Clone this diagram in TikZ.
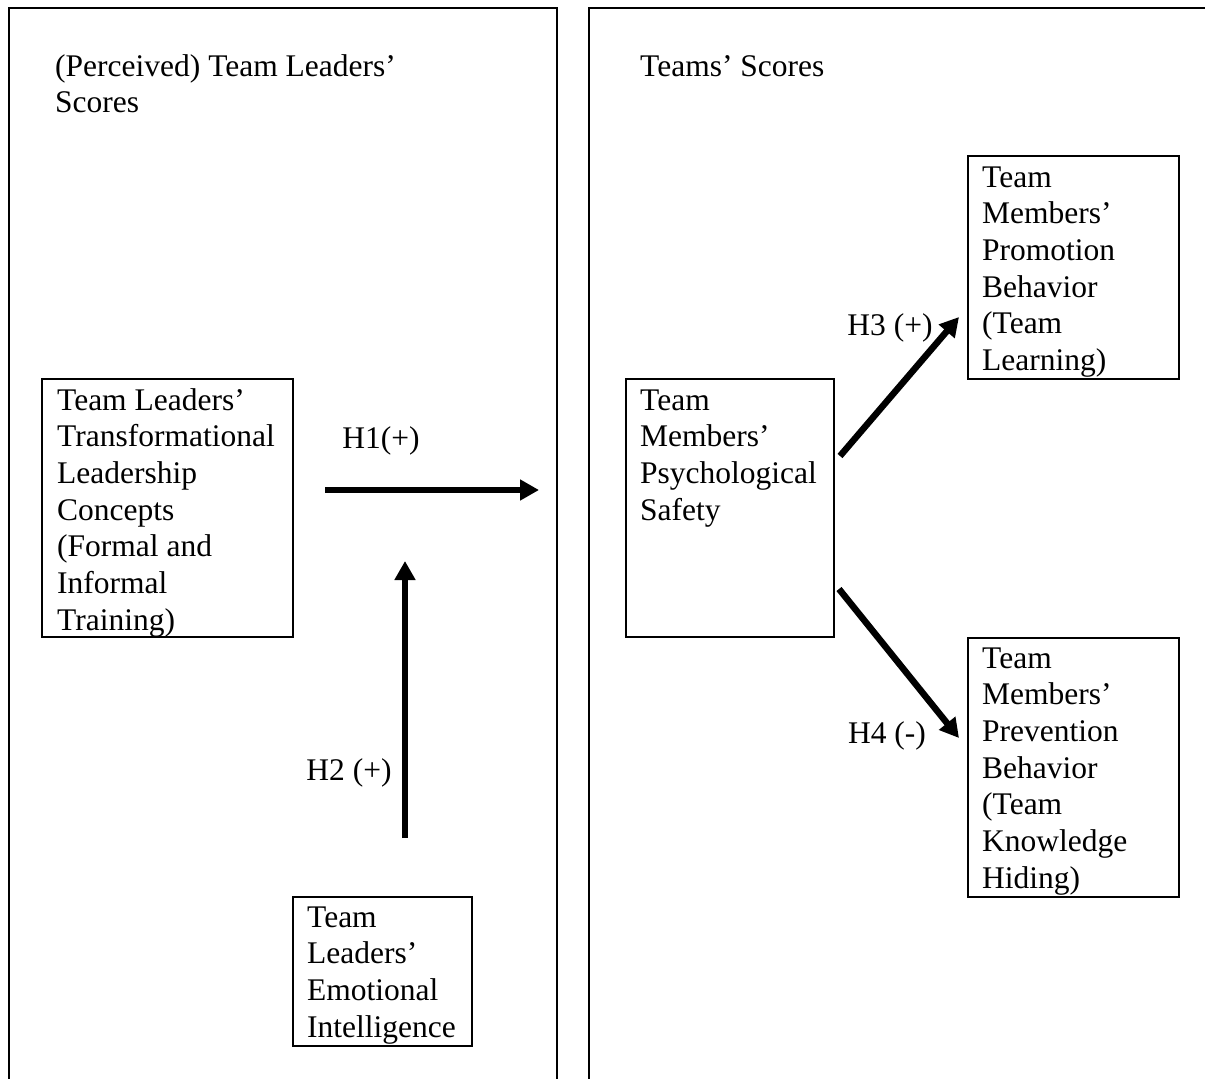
\documentclass[tikz,border=0pt]{standalone}
\usepackage{fontspec}
\setmainfont{Liberation Serif}
\usetikzlibrary{arrows.meta}
\begin{document}
\begin{tikzpicture}[x=1pt,y=-1pt,
  frame/.style={line width=2pt},
  boxnode/.style={draw, line width=2pt, anchor=north west, inner sep=0pt},
  txt/.style={anchor=base west, inner sep=0pt, font=\fontsize{31.5}{36.7}\selectfont},
  lbl/.style={anchor=base, inner sep=0pt, font=\fontsize{31.5}{36.7}\selectfont},
  hyp/.style={line width=6.5pt, -{Triangle[length=19pt,width=20pt]}}
]
\clip (0,0) rectangle (1205,1079);
\useasboundingbox (0,0) rectangle (1205,1079);
% panels
\draw[frame] (9,1100) -- (9,8) -- (557,8) -- (557,1100);
\draw[frame] (589,1100) -- (589,8) -- (1220,8);
\node[txt] (t1) at (55,76) {\parbox[t]{480pt}{(Perceived) Team Leaders’\\Scores}};
\node[txt] (t2) at (640,76) {Teams’ Scores};
% boxes
\node[boxnode, minimum width=251pt, minimum height=258pt] (tl) at (41,378) {};
\node[txt] (tltxt) at (57,410) {\parbox[t]{240pt}{Team Leaders’\\Transformational\\Leadership\\Concepts\\(Formal and\\Informal\\Training)}};
\node[boxnode, minimum width=179pt, minimum height=149pt] (ei) at (292,896) {};
\node[txt] (eitxt) at (307,927) {\parbox[t]{170pt}{Team\\Leaders’\\Emotional\\Intelligence}};
\node[boxnode, minimum width=208pt, minimum height=258pt] (ps) at (625,378) {};
\node[txt] (pstxt) at (640,410) {\parbox[t]{200pt}{Team\\Members’\\Psychological\\Safety}};
\node[boxnode, minimum width=211pt, minimum height=223pt] (pr) at (967,155) {};
\node[txt] (prtxt) at (982,187) {\parbox[t]{200pt}{Team\\Members’\\Promotion\\Behavior\\(Team\\Learning)}};
\node[boxnode, minimum width=211pt, minimum height=259pt] (pv) at (967,637) {};
\node[txt] (pvtxt) at (982,668) {\parbox[t]{200pt}{Team\\Members’\\Prevention\\Behavior\\(Team\\Knowledge\\Hiding)}};
% arrows
\coordinate (h1s) at (325,490);
\coordinate (h1e) at (539,490);
\coordinate (h2s) at (405,838);
\coordinate (h2e) at (405,561);
\coordinate (h3s) at (840,456);
\coordinate (h3e) at (959,317);
\coordinate (h4s) at (839,589);
\coordinate (h4e) at (959,738);
\draw[hyp] (h1s) -- (h1e);
\draw[hyp] (h2s) -- (h2e);
\draw[hyp] (h3s) -- (h3e);
\draw[hyp] (h4s) -- (h4e);
\node[lbl] (l1) at (381,448) {H1(+)};
\node[lbl] (l2) at (349,780) {H2 (+)};
\node[lbl] (l3) at (890,335) {H3 (+)};
\node[lbl] (l4) at (887,743) {H4 (-)};
\end{tikzpicture}
\end{document}
